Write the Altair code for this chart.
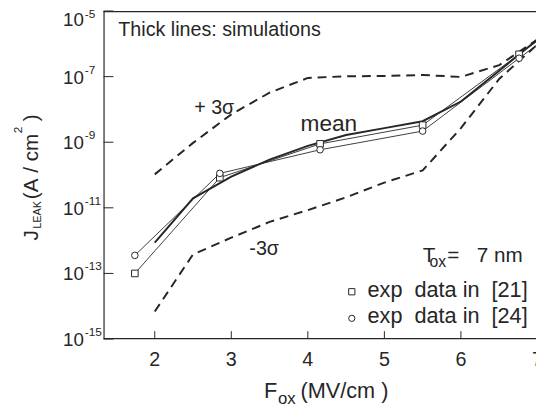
import altair as alt
import pandas as pd

# ---------------- data ----------------
sim_x = [2.0, 2.5, 3.0, 3.5, 4.0, 4.5, 5.0, 5.5, 6.0, 6.5, 7.0, 7.1]
plus3_log = [-9.98, -9.02, -8.15, -7.49, -7.04, -6.99, -6.98, -6.95, -7.01, -6.65, -5.87, -5.6]
mean_log = [-12.06, -10.71, -10.05, -9.53, -9.11, -8.78, -8.57, -8.36, -7.76, -6.82, -5.87, -5.65]
minus3_log = [-14.16, -12.42, -11.91, -11.43, -11.07, -10.68, -10.23, -9.86, -8.57, -7.07, -6.02, -5.75]

exp_x = [1.74, 2.85, 4.16, 5.5, 6.76, 7.1]
exp21_log = [-13.0, -10.08, -9.05, -8.48, -6.32, -5.74]
exp24_log = [-12.45, -9.95, -9.23, -8.66, -6.44, -5.85]

ytick_vals = [1e-5, 1e-7, 1e-9, 1e-11, 1e-13, 1e-15]
ytick_exp = ["-5", "-7", "-9", "-11", "-13", "-15"]
xtick_vals = [2, 3, 4, 5, 6, 7]

# ---------------- styling ----------------
FONT = "Liberation Sans"
INK = "#262626"
W, H = 439, 333
NB = "\u00a0"

xs = alt.Scale(domain=[1.331, 6.981], nice=False, zero=False)
ys = alt.Scale(type="log", domain=[1e-15, 1e-5], nice=False)
X = alt.X("F:Q", scale=xs, axis=None)
Y = alt.Y("J:Q", scale=ys, axis=None)


def frame(xv, logs):
    return pd.DataFrame({"F": xv, "J": [10 ** v for v in logs]})


def line(df, width, dash=None):
    kw = dict(color=INK, strokeWidth=width)
    if dash:
        kw["strokeDash"] = dash
    return alt.Chart(df).mark_line(**kw).encode(x=X, y=Y)


def label(txt, x, y, size, align="left", baseline="alphabetic", angle=0, color=INK):
    kw = dict(align=align, baseline=baseline, fontSize=size, font=FONT, color=color)
    if angle:
        kw["angle"] = angle
    return alt.Chart(pd.DataFrame({"t": [txt]})).mark_text(**kw).encode(
        x=alt.value(x), y=alt.value(y), text="t:N"
    )


layers = []

# borders
border = pd.DataFrame({"k": [1]})
layers.append(alt.Chart(border).mark_rule(color=INK, strokeWidth=1.2).encode(
    x=alt.value(0), x2=alt.value(W + 20), y=alt.value(0.6)))
layers.append(alt.Chart(border).mark_rule(color=INK, strokeWidth=1.2).encode(
    x=alt.value(0.5), y=alt.value(0), y2=alt.value(H)))
layers.append(alt.Chart(border).mark_rule(color=INK, strokeWidth=1.2).encode(
    x=alt.value(0), x2=alt.value(W + 20), y=alt.value(H - 0.5)))

# inward ticks
layers.append(alt.Chart(pd.DataFrame({"F": xtick_vals})).mark_rule(color=INK, strokeWidth=1).encode(
    x=X, y=alt.value(H - 8), y2=alt.value(H)))
df_yt = pd.DataFrame({"J": ytick_vals, "e": ytick_exp})
layers.append(alt.Chart(df_yt).mark_rule(color=INK, strokeWidth=1).encode(
    y=Y, x=alt.value(0), x2=alt.value(10)))

# y tick labels 10^n
layers.append(alt.Chart(df_yt).transform_filter("datum.J < 5e-6").mark_text(
    align="right", baseline="middle", fontSize=19, font=FONT, color=INK, dy=1).encode(
    y=Y, x=alt.value(-20), text=alt.value("10")))
layers.append(alt.Chart(df_yt).transform_filter("datum.J < 5e-6").mark_text(
    align="left", baseline="middle", fontSize=12, font=FONT, color=INK, dy=-7).encode(
    y=Y, x=alt.value(-19), text="e:N"))
layers.append(alt.Chart(df_yt).transform_filter("datum.J > 5e-6").mark_text(
    align="right", baseline="middle", fontSize=19, font=FONT, color=INK, dy=9.5).encode(
    y=Y, x=alt.value(-20), text=alt.value("10")))
layers.append(alt.Chart(df_yt).transform_filter("datum.J > 5e-6").mark_text(
    align="left", baseline="middle", fontSize=12, font=FONT, color=INK, dy=3).encode(
    y=Y, x=alt.value(-19), text="e:N"))

# x tick labels
layers.append(alt.Chart(pd.DataFrame({"F": xtick_vals})).mark_text(
    align="center", baseline="top", fontSize=20, font=FONT, color=INK).encode(
    x=X, y=alt.value(H + 11), text="F:Q"))

# simulation curves
layers.append(line(frame(sim_x, plus3_log), 2, [9, 6]))
layers.append(line(frame(sim_x, minus3_log), 2, [9, 6]))
layers.append(line(frame(sim_x, mean_log), 2))

# experimental data
d21 = frame(exp_x, exp21_log)
d24 = frame(exp_x, exp24_log)
layers.append(line(d21, 0.9))
layers.append(line(d24, 0.9))
layers.append(alt.Chart(d21).transform_filter("datum.F < 7").mark_point(
    shape="square", filled=True, fill="white", stroke=INK, strokeWidth=1, size=45, opacity=1).encode(x=X, y=Y))
layers.append(alt.Chart(d24).transform_filter("datum.F < 7").mark_point(
    shape="circle", filled=True, fill="white", stroke=INK, strokeWidth=1, size=45, opacity=1).encode(x=X, y=Y))

# annotations inside the plot
layers.append(label("Thick lines: simulations", 15, 25, 20))
layers.append(label("+ 3σ", 92, 105, 20))
layers.append(label("mean", 200, 122, 23))
layers.append(label("-3σ", 148, 248, 20))
layers.append(label("T", 324, 255, 21))
layers.append(label("ox", 331, 260, 16))
layers.append(label("=" + NB * 3 + "7" + NB + "nm", 349, 255, 21))

legend_pt = pd.DataFrame({"k": [1]})
layers.append(alt.Chart(legend_pt).mark_point(
    shape="square", filled=True, fill="white", stroke=INK, strokeWidth=1, size=40, opacity=1).encode(
    x=alt.value(252), y=alt.value(285)))
layers.append(alt.Chart(legend_pt).mark_point(
    shape="circle", filled=True, fill="white", stroke=INK, strokeWidth=1, size=40, opacity=1).encode(
    x=alt.value(252), y=alt.value(312)))
layers.append(label("exp" + NB * 2 + "data" + NB + "in" + NB * 2 + "[21]", 268, 290, 22))
layers.append(label("exp" + NB * 2 + "data" + NB + "in" + NB * 2 + "[24]", 268, 317, 22))

# x axis title  F_ox (MV/cm )
layers.append(label("F", 163, 393, 22))
layers.append(label("ox", 177, 399, 17))
layers.append(label("(MV/cm" + NB + ")", 200, 393, 22))

# y axis title  J_LEAK (A/cm^2), rotated
layers.append(label("J", -67, 233, 21, angle=270))
layers.append(label("LEAK", -63, 221, 11, angle=270))
layers.append(label("(A" + NB + "/" + NB + "cm", -67, 191, 21, angle=270))
layers.append(label("2", -83, 124, 12, angle=270))
layers.append(label(")", -67, 112, 21, angle=270))

chart = alt.layer(*layers).properties(
    width=W,
    height=H,
    autosize=alt.AutoSizeParams(type="none"),
    padding={"left": 97, "top": 0, "right": 0, "bottom": 70},
    background="white",
).configure_view(stroke=None)

chart.save("out.html", embed_options={"renderer": "svg", "actions": False})
